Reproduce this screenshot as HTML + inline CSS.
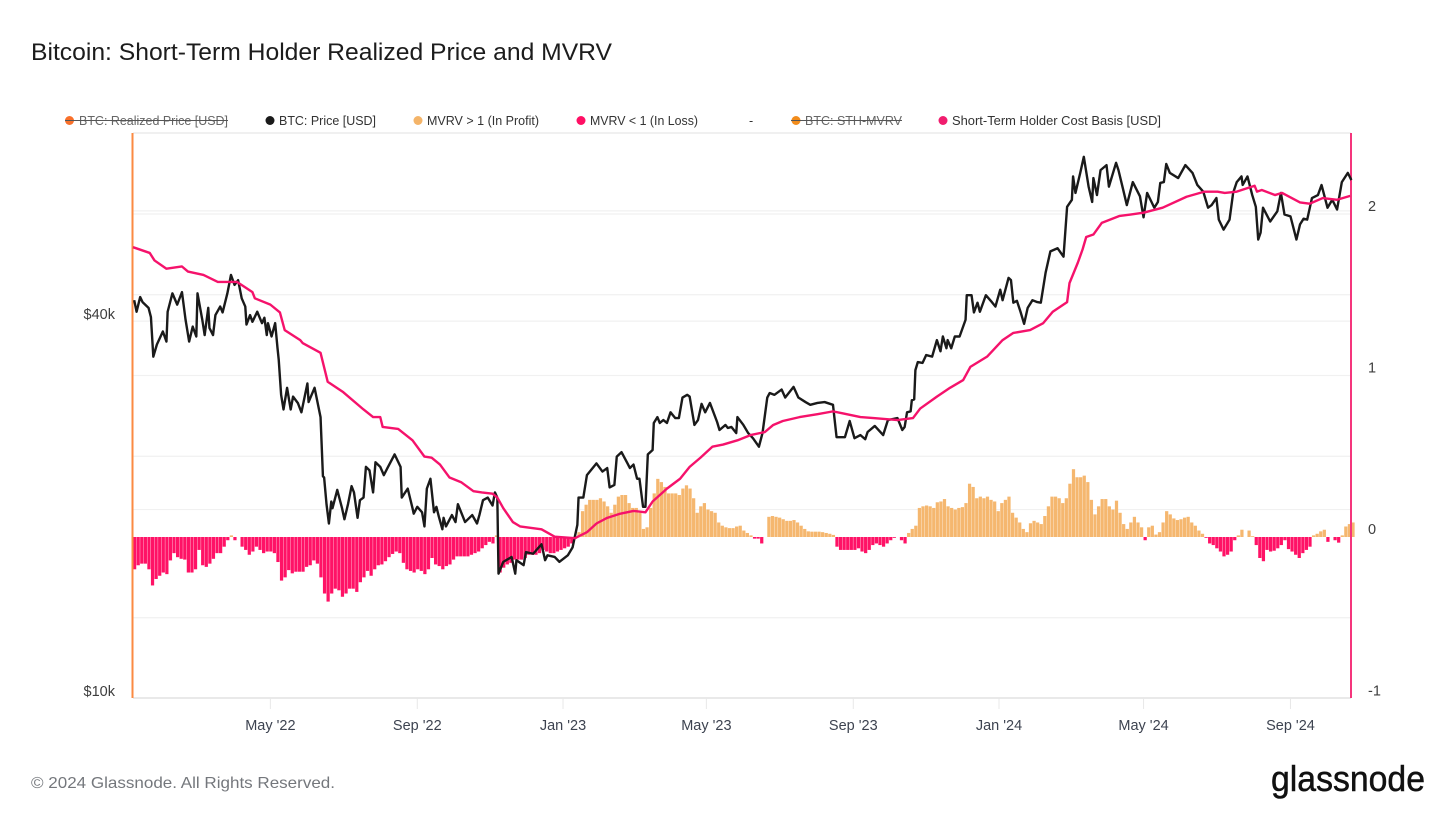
<!DOCTYPE html>
<html lang="en">
<head>
<meta charset="utf-8">
<title>Bitcoin: Short-Term Holder Realized Price and MVRV</title>
<style>
html,body{margin:0;padding:0;background:#fff;}
body{width:1456px;height:819px;overflow:hidden;}
svg{display:block;font-family:"Liberation Sans",Arial,sans-serif;}
</style>
</head>
<body>
<svg id="chart" width="1456" height="819" viewBox="0 0 1456 819" xmlns="http://www.w3.org/2000/svg">
  <rect x="0" y="0" width="1456" height="819" fill="#ffffff"/>
  <text x="31" y="60" font-size="24" fill="#1c1c1c" textLength="581" lengthAdjust="spacingAndGlyphs">Bitcoin: Short-Term Holder Realized Price and MVRV</text>

  <g font-size="12.5">
    <g>
      <circle cx="69.5" cy="120.5" r="4.5" fill="#f9702a"/>
      <text x="79" y="125" fill="#666" textLength="149" lengthAdjust="spacingAndGlyphs">BTC: Realized Price [USD]</text>
      <line x1="65" x2="228" y1="120.5" y2="120.5" stroke="#555" stroke-width="1"/>
    </g>
    <g>
      <circle cx="270" cy="120.5" r="4.5" fill="#1a1a1a"/>
      <text x="279" y="125" fill="#333" textLength="97" lengthAdjust="spacingAndGlyphs">BTC: Price [USD]</text>
    </g>
    <g>
      <circle cx="418" cy="120.5" r="4.5" fill="#f4b469"/>
      <text x="427" y="125" fill="#333" textLength="112" lengthAdjust="spacingAndGlyphs">MVRV &gt; 1 (In Profit)</text>
    </g>
    <g>
      <circle cx="581" cy="120.5" r="4.5" fill="#ff0f64"/>
      <text x="590" y="125" fill="#333" textLength="108" lengthAdjust="spacingAndGlyphs">MVRV &lt; 1 (In Loss)</text>
    </g>
    <text x="749" y="125" fill="#333">-</text>
    <g>
      <circle cx="796" cy="120.5" r="4.5" fill="#f28c1c"/>
      <text x="805" y="125" fill="#666" textLength="97" lengthAdjust="spacingAndGlyphs">BTC: STH-MVRV</text>
      <line x1="791" x2="902" y1="120.5" y2="120.5" stroke="#555" stroke-width="1"/>
    </g>
    <g>
      <circle cx="943" cy="120.5" r="4.5" fill="#f01d6e"/>
      <text x="952" y="125" fill="#333" textLength="209" lengthAdjust="spacingAndGlyphs">Short-Term Holder Cost Basis [USD]</text>
    </g>
  </g>

  <g id="grid"></g>
  <g id="bars"></g>
  <g id="frame"></g>
  <g id="lines"></g>
  <g id="xaxis"></g>
  <g id="yleft"></g>
  <g id="yright"></g>

  <text x="31" y="788" font-size="16" fill="#74777c" textLength="304" lengthAdjust="spacingAndGlyphs">© 2024 Glassnode. All Rights Reserved.</text>
  <text x="1271" y="791" font-size="36" fill="#111" stroke="#111" stroke-width="0.5" textLength="154" lengthAdjust="spacingAndGlyphs">glassnode</text>
</svg>

<script>
// ---- Chart data ----
const startDate = '2022-01-06';
const xTickDates = ['2022-05-01','2022-09-01','2023-01-01','2023-05-01','2023-09-01','2024-01-01','2024-05-01','2024-09-01'];
const xTickLabels = ["May '22","Sep '22","Jan '23","May '23","Sep '23","Jan '24","May '24","Sep '24"];
const priceTickValues = [10000, 40000];
const priceTickLabels = ['$10k', '$40k'];
const priceGridValues = [20000, 40000, 60000];
const mvrvTickValues = [-1, 0, 1, 2];
const mvrvTickLabels = ['-1', '0', '1', '2'];
const mvrvGridValues = [-0.5, 0.5, 1, 1.5, 2];

// days since start date, BTC price in $k
const priceDays = [1,3,6,8,13,15,17,20,25,28,29,33,37,41,44,47,50,53,54,58,60,63,64,67,69,73,75,79,82,85,88,91,94,95,98,100,104,108,110,112,113,116,119,121,122,124,126,129,132,134,138,141,146,147,152,157,159,160,162,164,166,167,171,175,177,180,183,185,188,190,193,195,198,201,203,207,210,213,219,224,225,230,234,235,238,242,244,246,249,252,254,256,259,260,262,267,270,272,278,284,288,290,293,297,301,303,305,306,310,317,320,321,327,329,335,342,345,347,353,357,364,368,372,373,377,380,388,393,397,399,403,405,409,414,416,419,422,424,427,429,431,435,436,439,441,444,447,450,454,457,460,464,466,470,473,476,479,483,489,491,496,498,501,505,506,511,515,519,524,527,531,533,537,543,546,553,557,563,567,573,579,586,589,592,596,600,604,609,613,615,621,628,632,640,644,646,648,651,652,654,655,657,661,664,669,673,676,678,681,682,685,688,692,697,698,702,704,707,709,714,719,722,726,728,733,735,737,740,743,746,749,753,757,760,764,768,774,779,782,786,787,789,793,796,800,803,804,807,810,815,817,823,825,829,832,837,843,846,849,855,858,860,863,865,868,875,881,887,891,896,900,903,907,909,913,918,921,924,928,929,933,937,940,942,944,946,952,958,961,964,969,974,977,980,983,987,992,995,1000,1004,1008,1012,1017,1020];
const priceValues = [43.2,41.4,43.7,42.9,42.0,40.6,35.1,36.7,38.5,37.1,41.4,44.3,42.5,44.5,40.2,37.1,39.2,37.8,44.3,40.2,38.0,42.0,39.0,38.0,40.9,42.2,41.3,44.3,47.4,45.7,46.5,43.5,42.2,39.5,40.9,39.9,41.4,39.7,40.5,38.0,39.7,37.8,39.7,36.2,34.7,30.5,28.9,31.3,28.9,30.3,29.6,28.6,31.8,29.7,31.3,28.1,22.6,22.5,20.4,19.0,20.6,20.1,21.5,20.1,19.3,20.4,21.8,21.3,19.4,20.7,20.9,23.4,23.1,21.3,23.8,23.4,22.7,23.3,24.5,23.4,20.9,21.6,20.1,19.7,20.2,19.8,18.8,21.6,22.4,19.8,20.2,19.5,18.6,19.4,18.8,19.6,19.1,20.4,19.1,19.6,19.0,19.6,20.7,20.9,20.3,21.3,20.9,15.8,16.5,16.8,15.8,16.6,16.3,17.1,17.0,17.6,16.6,16.9,16.8,16.5,16.9,17.4,18.9,20.9,20.9,22.7,23.7,23.0,23.3,21.7,21.9,24.3,24.7,23.7,23.3,23.6,22.4,22.4,20.2,20.2,24.5,24.9,27.5,28.1,27.5,27.8,27.5,28.6,28.0,28.0,30.2,30.5,30.3,27.3,27.8,29.5,28.6,29.6,27.6,26.8,27.3,27.0,27.1,26.5,28.1,27.3,26.5,26.0,25.2,26.5,30.2,30.7,30.5,31.1,30.2,31.4,30.2,29.7,29.4,29.6,29.7,29.4,26.1,26.1,26.1,27.7,26.0,26.3,25.9,26.6,27.2,26.3,27.8,28.0,26.8,27.1,28.6,28.7,29.9,30.0,33.4,34.4,34.3,35.3,35.1,37.3,35.8,37.8,36.2,37.3,36.2,37.8,37.8,40.2,44.0,44.0,41.3,42.8,41.4,44.0,42.9,42.2,44.9,43.2,46.9,46.5,42.8,43.1,41.4,39.6,42.0,43.2,42.9,42.8,47.8,51.7,52.3,50.7,60.9,62.5,68.1,64.1,69.0,73.2,65.6,62.0,67.7,63.6,69.7,71.0,65.6,71.6,69.7,64.8,61.3,66.7,63.3,58.6,64.1,60.7,62.0,66.5,66.7,71.3,69.0,67.7,71.0,69.0,66.0,64.4,60.7,61.3,62.9,58.1,56.0,58.1,64.1,66.7,68.1,66.0,68.1,63.6,60.9,54.0,55.4,60.7,57.7,59.9,64.1,59.2,58.8,54.0,57.1,58.3,58.1,62.9,63.6,66.0,60.7,62.5,60.3,66.7,69.0,67.2];

// days since start date, short-term holder cost basis in $k
const costBasisDays = [0,14,18,28,41,46,59,71,87,100,102,115,123,127,140,142,157,163,176,193,201,207,209,222,234,244,250,257,265,275,285,292,301,305,310,318,324,342,353,370,380,388,397,408,419,429,435,447,458,466,475,485,494,506,517,529,536,544,558,573,586,594,609,620,640,653,659,673,684,695,701,715,728,737,751,762,770,782,784,791,795,798,804,811,826,835,846,862,882,897,908,914,924,939,941,945,956,962,977,985,996,1008,1019];
const costBasisValues = [52.5,51.4,50.0,48.5,48.9,48.0,47.4,46.2,46.2,44.5,43.5,42.5,41.3,38.7,37.3,36.9,35.6,32.0,30.8,28.9,28.1,28.1,27.1,26.9,25.8,24.3,24.2,23.6,22.5,22.1,21.4,21.3,21.2,20.9,20.1,19.1,18.8,18.6,18.1,18.0,18.4,19.0,19.4,19.7,19.9,19.8,20.6,21.6,22.4,23.4,24.2,25.2,25.4,25.8,26.3,26.6,27.3,27.7,28.1,28.4,28.7,28.5,28.1,28.0,27.8,28.0,29.0,30.3,31.3,32.2,33.8,35.1,37.3,38.3,38.7,39.7,41.4,42.9,46.0,49.6,52.1,54.5,55.0,57.4,58.9,59.2,59.6,60.7,63.2,64.4,64.4,64.1,64.4,65.8,64.4,64.8,63.6,64.1,61.9,61.6,62.9,62.5,63.4];

// MVRV minus one, one bar every three days
const mvrvStepDays = 3;
const mvrvValues = [-.20,-.175,-.165,-.165,-.2,-.30,-.26,-.24,-.22,-.23,-.145,-.10,-.125,-.135,-.14,-.22,-.22,-.2,-.08,-.175,-.185,-.165,-.135,-.10,-.10,-.06,-.02,.01,-.02,0,-.06,-.08,-.11,-.09,-.06,-.08,-.10,-.09,-.09,-.10,-.155,-.27,-.25,-.205,-.225,-.215,-.215,-.215,-.185,-.175,-.145,-.165,-.25,-.35,-.40,-.35,-.32,-.33,-.37,-.35,-.32,-.32,-.34,-.28,-.25,-.21,-.24,-.2,-.175,-.17,
-.15,-.125,-.105,-.09,-.10,-.16,-.20,-.21,-.22,-.20,-.21,-.23,-.20,-.13,-.17,-.18,-.20,-.18,-.17,-.14,-.12,-.12,-.12,-.12,-.11,-.10,-.09,-.07,-.05,-.03,-.04,.01,-.22,-.19,-.17,-.16,-.14,-.14,-.14,-.13,-.11,-.11,-.11,-.10,-.08,-.09,-.10,-.10,-.09,-.08,-.07,-.06,-.04,-.01,
.03,.16,.20,.23,.23,.23,.24,.22,.19,.15,.20,.25,.26,.26,.21,.18,.18,.15,.05,.06,.18,.27,.36,.34,.31,.27,.27,.27,.26,.30,.32,.30,.24,.15,.19,.21,.17,.16,.15,.09,.07,.06,.055,.055,.065,.07,.04,.025,.01,-.01,-.01,-.04,0,.125,.13,.125,.12,.11,.10,.10,.105,.09,.07,.05,.035,.033,.033,.033,.03,.025,.02,.013,
-.06,-.08,-.08,-.08,-.08,-.08,-.07,-.09,-.10,-.08,-.05,-.04,-.05,-.06,-.04,-.02,-.005,0,-.02,-.04,.025,.05,.07,.18,.19,.195,.19,.18,.215,.22,.235,.19,.18,.17,.18,.185,.21,.33,.31,.24,.25,.24,.25,.23,.22,.16,.21,.23,.25,.15,.12,.09,.05,.03,.085,.10,.09,.08,.13,.19,.25,.25,.24,.21,.24,.33,.42,.37,.37,.38,.34,.23,.14,.19,.235,.235,.19,.17,.225,.15,.08,.05,.09,.125,.09,.06,-.02,.06,.07,.015,.03,.09,.16,.14,.115,.105,.11,.12,.125,.09,.07,.04,.02,-.005,-.04,-.05,-.07,-.09,-.12,-.11,-.09,-.02,.01,.045,0,.04,.005,-.05,-.13,-.15,-.08,-.09,-.085,-.07,-.05,-.02,-.075,-.09,-.11,-.13,-.10,-.08,-.06,.01,.02,.035,.045,-.03,0,-.02,-.035,.01,.065,.08,.09];

// ---- Axis functions ----
const PLOT_LEFT = 133, PLOT_RIGHT = 1351, PLOT_TOP = 133, PLOT_BOTTOM = 698;
const PX_PER_DAY = 1.1945;
const PX_PER_LOG10 = 626;
const PX_PER_MVRV = 161.5;
const MVRV_ZERO_Y = 537;

function xScale(day) { return PLOT_LEFT + day * PX_PER_DAY; }
function yPrice(usd) { return PLOT_BOTTOM - Math.log10(usd / 10000) * PX_PER_LOG10; }
function yMvrv(v) { return MVRV_ZERO_Y - v * PX_PER_MVRV; }
function dayOf(iso) { return (Date.parse(iso) - Date.parse(startDate)) / 864e5; }

const NS = 'http://www.w3.org/2000/svg';
function mk(tag, parent, attrs) {
  const el = document.createElementNS(NS, tag);
  for (const k in attrs) el.setAttribute(k, attrs[k]);
  parent.appendChild(el);
  return el;
}

const gridG = document.getElementById('grid');
const barsG = document.getElementById('bars');
const frameG = document.getElementById('frame');
const linesG = document.getElementById('lines');
const xG = document.getElementById('xaxis');
const yLG = document.getElementById('yleft');
const yRG = document.getElementById('yright');

// grid lines
priceGridValues.forEach(function (v) {
  const y = yPrice(v);
  const l = mk('line', gridG, {x1: PLOT_LEFT, x2: PLOT_RIGHT, y1: y, y2: y, stroke: '#f1f1f1', 'stroke-width': 1.2});
  
  
});
mvrvGridValues.forEach(function (v) {
  const y = yMvrv(v);
  const l = mk('line', gridG, {x1: PLOT_LEFT, x2: PLOT_RIGHT, y1: y, y2: y, stroke: '#f1f1f1', 'stroke-width': 1.2});
  
  
});

// bars
const barW = mvrvStepDays * PX_PER_DAY;
mvrvValues.forEach(function (v, i) {
  const x = xScale(i * mvrvStepDays);
  const y0 = yMvrv(0), y1 = yMvrv(v);
  const r = mk('rect', barsG, {
    x: x, width: barW - 0.35,
    y: Math.min(y0, y1), height: Math.abs(y1 - y0),
    fill: v >= 0 ? '#f5b76f' : '#ff1266'
  });
  
  
});

// frame
const topLine = mk('line', frameG, {x1: PLOT_LEFT, x2: PLOT_RIGHT, y1: PLOT_TOP, y2: PLOT_TOP, stroke: '#e8e8e8', 'stroke-width': 1.2});


const bottomLine = mk('line', frameG, {x1: PLOT_LEFT, x2: PLOT_RIGHT, y1: PLOT_BOTTOM, y2: PLOT_BOTTOM, stroke: '#e2e2e2', 'stroke-width': 1.4});


const leftSpine = mk('line', frameG, {x1: PLOT_LEFT - 0.5, x2: PLOT_LEFT - 0.5, y1: PLOT_TOP, y2: PLOT_BOTTOM, stroke: '#fb8a42', 'stroke-width': 2});


const rightSpine = mk('line', frameG, {x1: PLOT_RIGHT, x2: PLOT_RIGHT, y1: PLOT_TOP, y2: PLOT_BOTTOM, stroke: '#f5357c', 'stroke-width': 2});



// series lines
function linePath(days, vals) {
  return days.map(function (d, i) {
    return (i ? 'L' : 'M') + xScale(d).toFixed(2) + ' ' + yPrice(vals[i] * 1000).toFixed(2);
  }).join('');
}
const priceLine = mk('path', linesG, {d: linePath(priceDays, priceValues), fill: 'none', stroke: '#1a1a1a', 'stroke-width': 2.4, 'stroke-linejoin': 'round'});


const costLine = mk('path', linesG, {d: linePath(costBasisDays, costBasisValues), fill: 'none', stroke: '#f5126b', 'stroke-width': 2.4, 'stroke-linejoin': 'round'});



// x axis
xTickDates.forEach(function (iso, i) {
  const x = xScale(dayOf(iso));
  const t = mk('line', xG, {x1: x, x2: x, y1: PLOT_BOTTOM, y2: PLOT_BOTTOM + 11, stroke: '#e8e8e8', 'stroke-width': 1});
  
  
  const lab = mk('text', xG, {x: x, y: 730, 'text-anchor': 'middle', 'font-size': 14.5, fill: '#3d4350'});
  
  
  lab.textContent = xTickLabels[i];
});

// left axis
priceTickValues.forEach(function (v, i) {
  const lab = mk('text', yLG, {x: 115, y: yPrice(v) - 2, 'text-anchor': 'end', 'font-size': 14.5, fill: '#3d3d3d'});
  
  
  lab.textContent = priceTickLabels[i];
});

// right axis
mvrvTickValues.forEach(function (v, i) {
  const lab = mk('text', yRG, {x: 1368, y: yMvrv(v) - 3, 'font-size': 14.5, fill: '#3d3d3d'});
  
  
  lab.textContent = mvrvTickLabels[i];
});
</script>
</body>
</html>
